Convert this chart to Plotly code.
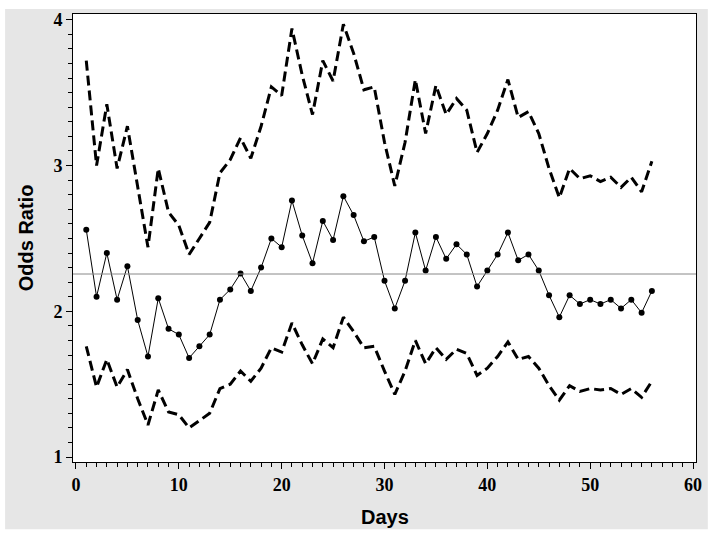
"""Odds ratio por día con bandas de confianza."""
import plotly.graph_objects as go

days = list(range(1, 57))

odds_ratio = [
    2.56, 2.10, 2.40, 2.08, 2.31, 1.94, 1.69, 2.09, 1.88, 1.84,
    1.68, 1.76, 1.84, 2.08, 2.15, 2.26, 2.14, 2.30, 2.50, 2.44,
    2.76, 2.52, 2.33, 2.62, 2.49, 2.79, 2.66, 2.48, 2.51, 2.21,
    2.02, 2.21, 2.54, 2.28, 2.51, 2.36, 2.46, 2.39, 2.17, 2.28,
    2.39, 2.54, 2.35, 2.39, 2.28, 2.11, 1.96, 2.11, 2.05, 2.08,
    2.05, 2.08, 2.02, 2.08, 1.99, 2.14,
]

upper_ci = [
    3.72, 3.00, 3.42, 2.98, 3.27, 2.86, 2.44, 2.98, 2.68, 2.59,
    2.39, 2.50, 2.61, 2.95, 3.04, 3.19, 3.05, 3.27, 3.54, 3.48,
    3.94, 3.62, 3.35, 3.72, 3.58, 3.97, 3.77, 3.52, 3.54, 3.16,
    2.86, 3.16, 3.59, 3.22, 3.55, 3.35, 3.46, 3.38, 3.09, 3.22,
    3.38, 3.59, 3.33, 3.37, 3.22, 2.98, 2.78, 2.98, 2.91, 2.93,
    2.89, 2.92, 2.85, 2.92, 2.82, 3.03,
]

lower_ci = [
    1.76, 1.48, 1.67, 1.48, 1.60, 1.40, 1.22, 1.46, 1.31, 1.29,
    1.20, 1.25, 1.30, 1.47, 1.50, 1.59, 1.52, 1.61, 1.75, 1.72,
    1.92, 1.77, 1.64, 1.81, 1.75, 1.96, 1.86, 1.75, 1.76, 1.59,
    1.43, 1.59, 1.80, 1.64, 1.75, 1.67, 1.74, 1.71, 1.56, 1.61,
    1.69, 1.79, 1.67, 1.69, 1.61, 1.49, 1.39, 1.49, 1.45, 1.47,
    1.46, 1.47, 1.43, 1.47, 1.41, 1.52,
]

overall_or = 2.256

x_ticks = [0, 10, 20, 30, 40, 50, 60]
y_ticks = [1, 2, 3, 4]

GRAY = "#e6e6e6"
TICK_FONT = dict(family="Liberation Serif", size=18, color="black")
TITLE_FONT = dict(family="Liberation Sans", size=20, color="black")

fig = go.Figure()
for band in (upper_ci, lower_ci):
    fig.add_trace(go.Scatter(
        x=days, y=band, mode="lines",
        line=dict(color="black", width=3, dash="10px,5px"),
        showlegend=False,
    ))
fig.add_trace(go.Scatter(
    x=days, y=odds_ratio, mode="lines+markers",
    line=dict(color="black", width=1),
    marker=dict(color="black", size=6),
    showlegend=False,
))

# fondo gris del marco y área blanca del gráfico
fig.add_shape(type="rect", xref="paper", yref="paper",
              x0=-0.109, x1=1.019, y0=-0.150, y1=1.011,
              fillcolor=GRAY, line_width=0, layer="below")
fig.add_shape(type="rect", xref="paper", yref="paper",
              x0=0, x1=1, y0=0, y1=1,
              fillcolor="white", line_width=0, layer="below")
fig.add_hline(y=overall_or, line=dict(color="#888888", width=1))

axis_common = dict(
    showgrid=False, zeroline=False, showline=True, linecolor="black",
    linewidth=1, mirror=True, ticks="outside", ticklen=6, tickwidth=1,
    tickcolor="black", tickfont=TICK_FONT,
)
fig.update_xaxes(
    **axis_common, range=[-0.29, 60.29],
    tickvals=x_ticks, ticktext=[f"<b>{v}</b>" for v in x_ticks],
    minor=dict(dtick=1, tick0=0, ticks="outside", ticklen=4, tickcolor="black"),
)
fig.update_yaxes(
    **axis_common, range=[0.966, 4.04],
    tickvals=y_ticks, ticktext=[f"<b>{v}</b>" for v in y_ticks],
    minor=dict(dtick=0.1, tick0=1, ticks="outside", ticklen=4, tickcolor="black"),
)

fig.add_annotation(text="<b>Days</b>", xref="paper", yref="paper",
                   x=0.5, y=-0.122, xanchor="center", yanchor="middle",
                   showarrow=False, font=TITLE_FONT)
fig.add_annotation(text="<b>Odds Ratio</b>", xref="paper", yref="paper",
                   x=-0.075, y=0.5, xanchor="center", yanchor="middle",
                   textangle=-90, showarrow=False, font=TITLE_FONT)

fig.update_layout(
    width=714, height=539,
    margin=dict(l=73, r=18, t=10, b=77),
    paper_bgcolor="white", plot_bgcolor="white",
)
fig.write_html("out.html", config={"displayModeBar": False},
               post_script="document.body.style.margin='0';")
